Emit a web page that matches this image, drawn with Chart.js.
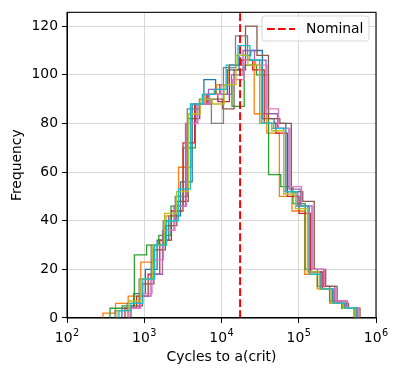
<!DOCTYPE html>
<html>
<head>
<meta charset="utf-8">
<script src="https://cdn.jsdelivr.net/npm/chart.js@4/dist/chart.umd.min.js"></script>
<style>
  html, body { margin: 0; padding: 0; background: #fff; }
  canvas { display: block; }
</style>
</head>
<body>
<canvas id="chart" width="398" height="375"></canvas>
<script>
// data range of each run (first and last bin edge)
const seriesLo = [515, 292, 360, 563, 616, 674, 635, 418, 444, 471];
const seriesHi = [551000, 535000, 519000, 568000, 585000, 621000, 603000, 551000, 535000, 568000];

// 20 log-spaced bins per run
const countsBlue   = [4, 10, 20, 32, 42, 56, 88, 98, 92, 102, 108, 110, 82, 80, 52, 46, 19, 12, 6, 4];
const countsOrange = [2, 6, 9, 23, 30, 42, 62, 88, 92, 96, 104, 106, 84, 76, 50, 44, 18, 12, 6, 4];
const countsGreen  = [4, 5, 26, 30, 34, 46, 70, 88, 92, 96, 87, 104, 100, 59, 54, 47, 20, 13, 7, 4];
const countsRed    = [4, 9, 18, 32, 44, 72, 88, 92, 89, 104, 106, 102, 80, 76, 50, 43, 19, 12, 6, 4];
const countsPurple = [4, 9, 18, 36, 46, 80, 88, 94, 92, 100, 110, 106, 84, 78, 53, 46, 20, 13, 7, 4];
const countsBrown  = [5, 14, 28, 38, 48, 82, 88, 90, 86, 102, 120, 108, 82, 80, 52, 48, 20, 13, 6, 4];
const countsPink   = [4, 10, 24, 36, 46, 80, 88, 92, 96, 98, 106, 104, 86, 78, 54, 46, 20, 12, 7, 4];
const countsGray   = [3, 6, 16, 30, 40, 50, 86, 90, 80, 103, 116, 106, 80, 78, 52, 46, 19, 12, 6, 4];
const countsOlive  = [3, 7, 16, 30, 43, 52, 84, 90, 88, 96, 108, 104, 80, 77, 51, 45, 19, 12, 6, 4];
const countsCyan   = [3, 6, 16, 30, 40, 53, 88, 92, 94, 104, 112, 106, 80, 78, 52, 46, 18, 12, 6, 4];

const allCounts = [countsBlue, countsOrange, countsGreen, countsRed, countsPurple,
                   countsBrown, countsPink, countsGray, countsOlive, countsCyan];

const nominal = 17400;
const xTicks = [1e2, 1e3, 1e4, 1e5, 1e6];
const xTickExponents = ["2", "3", "4", "5", "6"];
const yTicks = [0, 20, 40, 60, 80, 100, 120];

const colors = ["#1f77b4", "#ff7f0e", "#2ca02c", "#d62728", "#9467bd",
                "#8c564b", "#e377c2", "#7f7f7f", "#bcbd22", "#17becf"];

const FAMILY = "'DejaVu Sans', sans-serif";
const FONT = { family: FAMILY, size: 13.9 };

function logEdges(lo, hi, n) {
  const a = Math.log10(lo), b = Math.log10(hi);
  const out = [];
  for (let k = 0; k <= n; k++) out.push(Math.pow(10, a + (b - a) * k / n));
  return out;
}

function stepPoints(counts, lo, hi) {
  const e = logEdges(lo, hi, counts.length);
  const pts = [{ x: e[0], y: 0 }];
  counts.forEach((c, k) => pts.push({ x: e[k], y: c }));
  pts.push({ x: e[counts.length], y: 0 });
  return pts;
}

const datasets = allCounts.map((c, i) => ({
  label: "run " + i,
  data: stepPoints(c, seriesLo[i], seriesHi[i]),
  borderColor: colors[i],
  borderWidth: 1.3,
  stepped: "before",
  pointRadius: 0,
  fill: false,
  order: 10 - i
}));

datasets.push({
  label: "Nominal",
  data: [{ x: nominal, y: 0 }, { x: nominal, y: 200 }],
  borderColor: "#ff0000",
  borderWidth: 2,
  borderDash: [7.7, 3.3],
  pointRadius: 0,
  fill: false,
  order: 0
});

const framePlugin = {
  id: "frame",
  afterDatasetsDraw(chart) {
    const { ctx, chartArea: a } = chart;
    ctx.save();
    ctx.strokeStyle = "#000";
    ctx.lineWidth = 1.1;
    ctx.strokeRect(a.left, a.top, a.right - a.left, a.bottom - a.top);

    // legend box (only the nominal line is labelled)
    const bx = 262, by = 16, bw = 107, bh = 25, r = 3;
    ctx.beginPath();
    ctx.moveTo(bx + r, by);
    ctx.arcTo(bx + bw, by, bx + bw, by + bh, r);
    ctx.arcTo(bx + bw, by + bh, bx, by + bh, r);
    ctx.arcTo(bx, by + bh, bx, by, r);
    ctx.arcTo(bx, by, bx + bw, by, r);
    ctx.closePath();
    ctx.fillStyle = "rgba(255,255,255,0.8)";
    ctx.fill();
    ctx.strokeStyle = "rgba(204,204,204,0.8)";
    ctx.lineWidth = 1;
    ctx.stroke();

    ctx.beginPath();
    ctx.setLineDash([7.7, 3.3]);
    ctx.strokeStyle = "#ff0000";
    ctx.lineWidth = 2;
    ctx.moveTo(267, 29);
    ctx.lineTo(295, 29);
    ctx.stroke();
    ctx.setLineDash([]);

    ctx.fillStyle = "#000";
    ctx.font = FONT.size + "px " + FAMILY;
    ctx.textBaseline = "middle";
    ctx.fillText("Nominal", 306, 29);

    // x tick labels as 10 with raised exponent
    const xs = chart.scales.x;
    const big = 13.9, small = 9.7;
    ctx.textBaseline = "alphabetic";
    xTicks.forEach((v, i) => {
      const px = xs.getPixelForValue(v);
      ctx.font = big + "px " + FAMILY;
      const wb = ctx.measureText("10").width;
      ctx.font = small + "px " + FAMILY;
      const ws = ctx.measureText(xTickExponents[i]).width;
      const x0 = px - (wb + ws + 0.5) / 2;
      ctx.font = big + "px " + FAMILY;
      ctx.fillText("10", x0, 341.7);
      ctx.font = small + "px " + FAMILY;
      ctx.fillText(xTickExponents[i], x0 + wb + 0.5, 336);
    });
    ctx.restore();
  }
};

new Chart(document.getElementById("chart"), {
  type: "line",
  data: { datasets },
  plugins: [framePlugin],
  options: {
    responsive: false,
    animation: false,
    devicePixelRatio: 1,
    parsing: false,
    layout: { padding: { left: 0, right: 22, top: 10, bottom: 0 } },
    plugins: { legend: { display: false }, tooltip: { enabled: false } },
    scales: {
      x: {
        type: "logarithmic",
        min: 1e2,
        max: 1e6,
        afterBuildTicks: (s) => { s.ticks = xTicks.map((v) => ({ value: v })); },
        afterFit: (s) => { s.height = 57; },
        ticks: { display: false },
        grid: { color: "#d8d8d8", lineWidth: 1, tickColor: "#000", tickLength: 5 },
        border: { color: "#000", width: 1 },
        title: {
          display: true, text: "Cycles to a(crit)", font: FONT, color: "#000",
          padding: { top: 0, bottom: 9 }
        }
      },
      y: {
        type: "linear",
        min: 0,
        max: 125.7,
        afterBuildTicks: (s) => { s.ticks = yTicks.map((v) => ({ value: v })); },
        afterFit: (s) => { s.width = 67; },
        ticks: { font: FONT, color: "#000", padding: 4 },
        grid: { color: "#d8d8d8", lineWidth: 1, tickColor: "#000", tickLength: 5 },
        border: { color: "#000", width: 1 },
        title: {
          display: true, text: "Frequency", font: FONT, color: "#000",
          padding: { top: 9, bottom: 0 }
        }
      }
    }
  }
});
</script>
</body>
</html>
